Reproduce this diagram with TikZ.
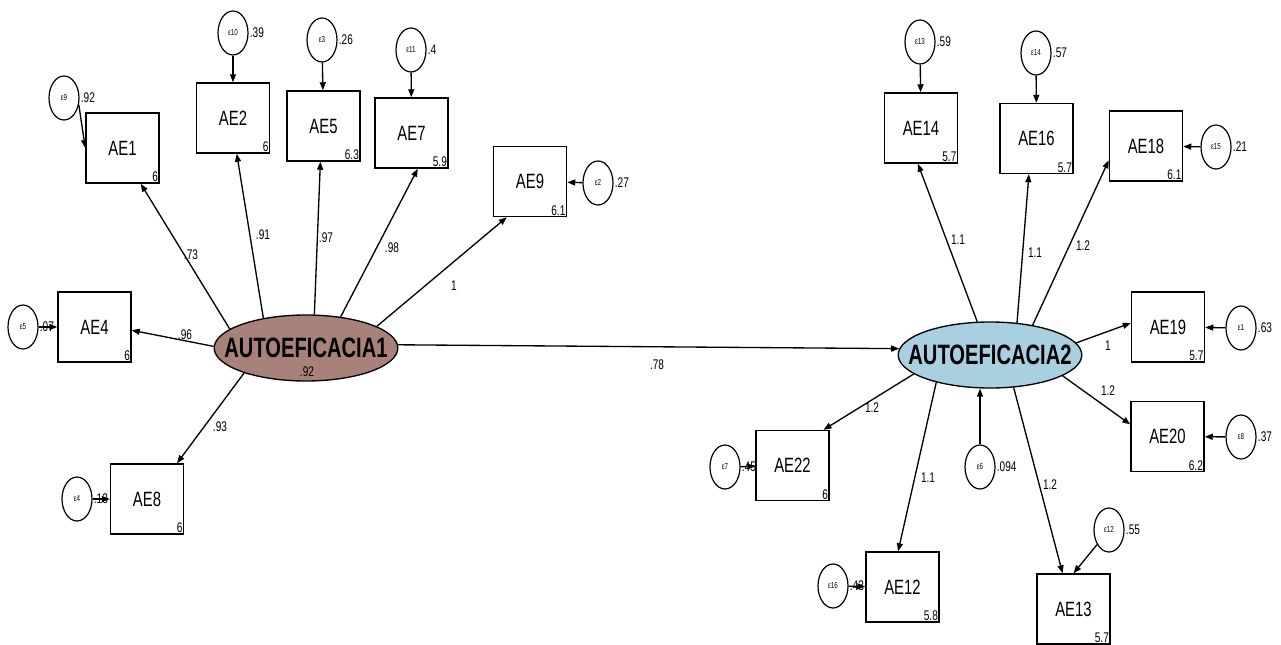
\documentclass[tikz,border=0pt]{standalone}
\usepackage{fontspec}
\setmainfont{Liberation Sans}[FakeStretch=0.72]
\usetikzlibrary{arrows.meta,shapes.geometric}
\definecolor{latbrown}{RGB}{168,130,122}
\definecolor{latblue}{RGB}{168,208,224}
\tikzset{
  obs/.style={draw, line width=1.1pt, minimum width=54.75pt, minimum height=52.5pt, inner sep=0pt, font=\fontsize{15.5}{16}\selectfont},
  val/.style={label={[anchor=south east, inner sep=1.2pt, font=\fontsize{10.5}{11}\selectfont]south east:#1}},
  err/.style={draw, ellipse, line width=0.9pt, minimum width=22.5pt, minimum height=33pt, inner sep=0pt, font=\fontsize{6.5}{7}\selectfont},
  ev/.style={label={[anchor=west, inner sep=0.8pt, font=\fontsize{10.5}{11}\selectfont]east:#1}},
  lat/.style={draw, ellipse, line width=1pt, minimum width=137pt, minimum height=49.5pt, inner xsep=-12.5pt, inner ysep=0pt, font=\bfseries\fontsize{21}{22}\selectfont},
  pl/.style={inner sep=0pt, font=\fontsize{10.5}{11}\selectfont},
  arr/.style={line width=1pt, -{Triangle[length=6pt,width=4.5pt]}},
}
\begin{document}
\begin{tikzpicture}[x=0.75pt,y=-0.75pt]
\path[use as bounding box] (0,0) rectangle (1281,645);
% latent variables
\node[lat, fill=latbrown] (lat1) at (306,348) {AUTOEFICACIA1};
\node[pl] (v92) at (307,372) {.92};
\node[lat, fill=latblue] (lat2) at (990,355) {AUTOEFICACIA2};
% left observed
\node[obs, val=6] (ae1) at (122.5,148) {AE1};
\node[obs, val=6] (ae2) at (233,118) {AE2};
\node[obs, val=6.3] (ae5) at (323.5,126) {AE5};
\node[obs, val=5.9] (ae7) at (411.5,133) {AE7};
\node[obs, val=6.1] (ae9) at (530,181.5) {AE9};
\node[obs, val=6] (ae4) at (94.5,327) {AE4};
\node[obs, val=6] (ae8) at (147,499) {AE8};
% right observed
\node[obs, val=5.7] (ae14) at (921,128) {AE14};
\node[obs, val=5.7] (ae16) at (1036.5,138.5) {AE16};
\node[obs, val=6.1] (ae18) at (1146,146) {AE18};
\node[obs, val=5.7] (ae19) at (1168,327) {AE19};
\node[obs, val=6.2] (ae20) at (1167.5,436.5) {AE20};
\node[obs, val=6] (ae22) at (792.5,465.5) {AE22};
\node[obs, val=5.8] (ae12) at (902.5,587) {AE12};
\node[obs, val=5.7] (ae13) at (1073.5,609) {AE13};
% left errors
\node[err, ev=.92] (e9) at (64,98) {ε9};
\node[err, ev=.39] (e10) at (233,33) {ε10};
\node[err, ev=.26] (e3) at (322,40) {ε3};
\node[err, ev=.4] (e11) at (411,50) {ε11};
\node[err, ev=.27] (e2) at (598,183) {ε2};
\node[err, ev=.07] (e5) at (23,327) {ε5};
\node[err, ev=.13] (e4) at (77,499) {ε4};
% right errors
\node[err, ev=.59] (e13) at (920,42) {ε13};
\node[err, ev=.57] (e14) at (1036,53) {ε14};
\node[err, ev=.21] (e15) at (1216,147) {ε15};
\node[err, ev=.63] (e1) at (1241,328) {ε1};
\node[err, ev=.37] (e8) at (1241,437) {ε8};
\node[err, ev=.45] (e7) at (725,467) {ε7};
\node[err, ev=.43] (e16) at (833,586) {ε16};
\node[err, ev=.55] (e12) at (1109,530) {ε12};
\node[err, ev=.094] (e6) at (980,467) {ε6};
% loadings left
\draw[arr] (lat1.166) -- (ae1.-63);
\draw[arr] (lat1.145) -- (ae2.-84);
\draw[arr] (lat1.76) -- (ae5.-95);
\draw[arr] (lat1.42) -- (ae7.-80);
\draw[arr] (lat1.17) -- (ae9.-123);
\draw[arr] (lat1.179) -- (ae4.-5);
\draw[arr] (lat1.202) -- (ae8.50);
% structural path
\draw[arr] (lat1.2) -- (lat2.176);
% loadings right
\draw[arr] (lat2.111) -- (ae14.-95);
\draw[arr] (lat2.50) -- (ae16.-102);
\draw[arr] (lat2.35) -- (ae18.201);
\draw[arr] (lat2.8) -- (ae19.174);
\draw[arr] (lat2.-16) -- (ae20.162);
\draw[arr] (lat2.194) -- (ae22.49);
\draw[arr] (lat2.207) -- (ae12.97);
\draw[arr] (lat2.-54) -- (ae13.107);
% error arrows
\draw[arr] (e9.-25) -- (ae1.west);
\draw[arr] (e10) -- (ae2);
\draw[arr] (e3) -- (ae5);
\draw[arr] (e11) -- (ae7);
\draw[arr] (e2) -- (ae9);
\draw[arr] (e5) -- (ae4);
\draw[arr] (e4) -- (ae8);
\draw[arr] (e13) -- (ae14);
\draw[arr] (e14) -- (ae16);
\draw[arr] (e15) -- (ae18);
\draw[arr] (e1) -- (ae19);
\draw[arr] (e8) -- (ae20);
\draw[arr] (e7) -- (ae22);
\draw[arr] (e16) -- (ae12);
\draw[arr] (e12) -- (ae13.north);
\draw[arr] (e6) -- (e6 |- lat2.south);
% path labels
\node[pl] (l1) at (191,255) {.73};
\node[pl] (l2) at (263,235) {.91};
\node[pl] (l5) at (326,238) {.97};
\node[pl] (l7) at (392,248) {.98};
\node[pl] (l9) at (454,286) {1};
\node[pl] (l4) at (185,335) {.96};
\node[pl] (l8) at (220,427) {.93};
\node[pl] (l78) at (657,365) {.78};
\node[pl] (l14) at (958,240) {1.1};
\node[pl] (l16) at (1035,253) {1.1};
\node[pl] (l18) at (1083,246) {1.2};
\node[pl] (l19) at (1108,346) {1};
\node[pl] (l20) at (1108,391) {1.2};
\node[pl] (l22) at (872,408) {1.2};
\node[pl] (l12) at (928,478) {1.1};
\node[pl] (l13) at (1050,485) {1.2};
\end{tikzpicture}
\end{document}
